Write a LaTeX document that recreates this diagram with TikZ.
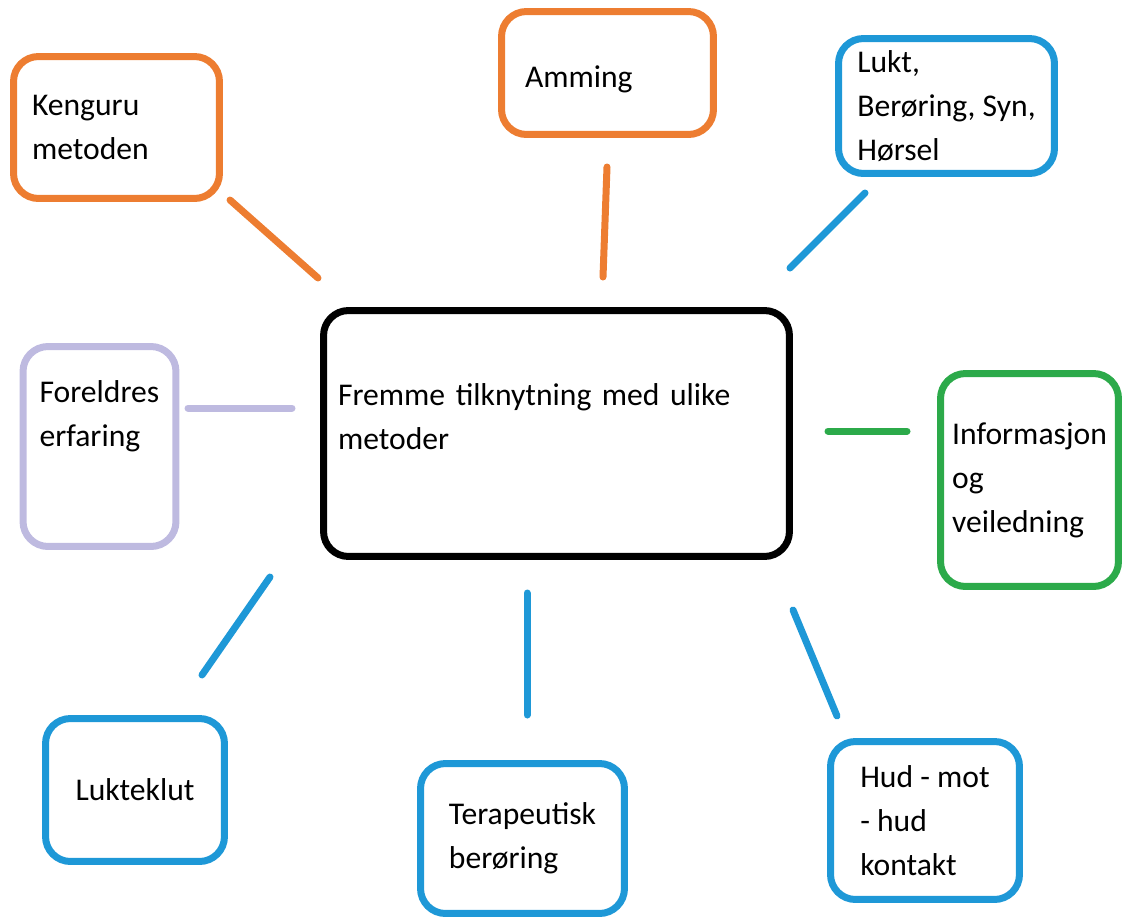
\documentclass[tikz,border=0pt]{standalone}
\usepackage{fontspec}
\setmainfont{Carlito}
\usepackage{xcolor}

\definecolor{boxOrange}{RGB}{237,125,49}
\definecolor{boxBlue}{RGB}{30,152,215}
\definecolor{boxGreen}{RGB}{44,170,74}
\definecolor{boxLilac}{RGB}{190,186,224}

\begin{document}
\begin{tikzpicture}[x=0.02cm, y=-0.02cm, font=\fontsize{18pt}{25pt}\selectfont]
	\tikzset	{
		box/.style={
			draw=#1, line width=0.14cm, rounded corners=0.5cm,
			align=left, inner sep=0pt
		},
		link/.style={
			draw=#1, line width=0.14cm, line cap=round
		},
	}
	\useasboundingbox (0,0) rectangle (1123,920);

	% middle
	\node[box=black, minimum width=9.32cm, minimum height=4.92cm,
		text width=8.74cm, inner xsep=0.29cm, text depth=1.54cm]
		(midt) at (556.5,433.5) {Fremme tilknytning med ulike\\metoder};

	% upper row
	\node[box=boxOrange, minimum width=4.12cm, minimum height=2.84cm,
		text width=3.38cm, inner xsep=0.37cm]
		(kenguru) at (116.5,127.5) {Kenguru\\metoden};
	\node[box=boxOrange, minimum width=4.24cm, minimum height=2.46cm,
		text width=3.30cm, inner xsep=0.47cm, text height=0.68cm]
		(amming) at (607.5,73) {Amming};
	\node[box=boxBlue, minimum width=4.32cm, minimum height=2.70cm]
		(sanser) at (946.5,106) {Lukt,\\Berøring, Syn,\\Hørsel};

	% sides
	\node[box=boxLilac, minimum width=2.96cm, minimum height=4.00cm,
		text width=2.4cm, inner xsep=0.33cm, text depth=2.18cm]
		(foreldre) at (99.5,446.5) {Foreldres\\erfaring};
	\node[box=boxGreen, minimum width=3.56cm, minimum height=4.26cm]
		(info) at (1029.5,480) {Informasjon\\og\\veiledning};

	% lower row
	\node[box=boxBlue, minimum width=3.58cm, minimum height=2.86cm]
		(klut) at (135,790) {Lukteklut};
	\node[box=boxBlue, minimum width=4.08cm, minimum height=3.00cm]
		(terapi) at (522.5,838.5) {Terapeutisk\\berøring};
	\node[box=boxBlue, minimum width=3.78cm, minimum height=3.16cm]
		(hud) at (925,820.5) {Hud - mot\\- hud\\kontakt};

	% loose ends of the strokes
	\coordinate (kenguru-a) at (230,200);	\coordinate (kenguru-b) at (318,278);
	\coordinate (amming-a) at (607,167);	\coordinate (amming-b) at (603,277);
	\coordinate (sanser-a) at (865,193);	\coordinate (sanser-b) at (790,268);
	\coordinate (foreldre-a) at (188,408);	\coordinate (foreldre-b) at (292,408);
	\coordinate (info-a) at (907,431);		\coordinate (info-b) at (828,431);
	\coordinate (klut-a) at (202,675);		\coordinate (klut-b) at (270,577);
	\coordinate (terapi-a) at (527,715);	\coordinate (terapi-b) at (527,593);
	\coordinate (hud-a) at (837,716);		\coordinate (hud-b) at (793,610);

	\draw[link=boxOrange]	(kenguru-a) -- (kenguru-b);
	\draw[link=boxOrange]	(amming-a) -- (amming-b);
	\draw[link=boxBlue]		(sanser-a) -- (sanser-b);
	\draw[link=boxLilac]	(foreldre-a) -- (foreldre-b);
	\draw[link=boxGreen]	(info-a) -- (info-b);
	\draw[link=boxBlue]		(klut-a) -- (klut-b);
	\draw[link=boxBlue]		(terapi-a) -- (terapi-b);
	\draw[link=boxBlue]		(hud-a) -- (hud-b);
\end{tikzpicture}
\end{document}
